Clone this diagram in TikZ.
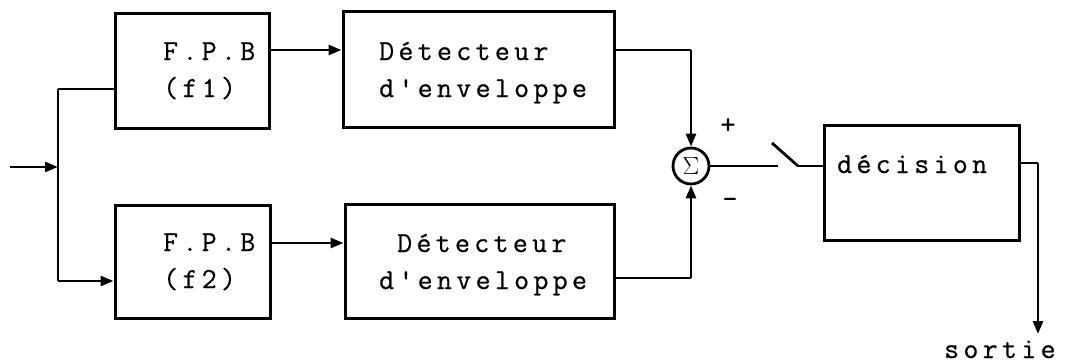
\documentclass[tikz,border=0pt]{standalone}
\usepackage{fontspec}
\usetikzlibrary{arrows.meta}
\newfontfamily\tw[LetterSpace=15,FakeBold=0.6]{Latin Modern Mono}
\begin{document}
\begin{tikzpicture}[x=1pt,y=-1pt,
  blk/.style={draw,line width=3pt,minimum width=#1,inner sep=0pt},
  txt/.style={anchor=base west,inner sep=0pt,font=\tw\fontsize{29}{33}\selectfont},
  sgn/.style={inner sep=0pt,font=\tw\fontsize{30}{30}\selectfont},
  wire/.style={line width=2.8pt},
  arr/.style={line width=2.8pt,-{Triangle[length=13pt,width=10pt]}},
  sumc/.style={draw,circle,line width=2.8pt,minimum size=36pt,inner sep=0pt,font=\fontsize{25}{25}\selectfont}]
\useasboundingbox (0,0) rectangle (1074,364);
% boxes
\node[blk=154pt,minimum height=115pt] (f1) at (192,70.5) {};
\node[blk=155pt,minimum height=113pt] (f2) at (192.5,261.5) {};
\node[blk=271pt,minimum height=116pt] (d1) at (478.5,69) {};
\node[blk=269pt,minimum height=114pt] (d2) at (479.5,261) {};
\node[blk=195pt,minimum height=115pt] (dec) at (921.5,182.5) {};
\node[sumc] (s) at (691,166) {$\Sigma$};
% texts
\node[txt] (f1a) at (163,60) {F.P.B};
\node[txt] (f1b) at (163,97) {(f1)};
\node[txt] (f2a) at (163,251) {F.P.B};
\node[txt] (f2b) at (163,288) {(f2)};
\node[txt] (d1a) at (379,60) {Détecteur};
\node[txt] (d1b) at (379,97) {d'enveloppe};
\node[txt] (d2a) at (397,252) {Détecteur};
\node[txt] (d2b) at (379,289) {d'enveloppe};
\node[txt] (deca) at (837,173) {décision};
\node[txt] (out) at (944,358) {sortie};
\node[sgn] (plus) at (728,126) {+};
\node[sgn] (minus) at (730,203) {-};
% coordinates
\coordinate (in) at (10,167);
\coordinate (bus) at (58,167);
\coordinate (bt) at (58,89);
\coordinate (bb) at (58,281);
\coordinate (c1) at (691,50);
\coordinate (c2) at (691,278);
\coordinate (sw1) at (778,166);
\coordinate (sw2) at (772,143);
\coordinate (sw3) at (798,166);
\coordinate (o1) at (1038,163);
\coordinate (o2) at (1038,334);
% connectors
\draw[arr] (in) -- (bus);
\draw[wire] (bt) -- (bb);
\draw[wire] (bt) -- (f1.west |- bt);
\draw[arr] (bb) -- (f2.west |- bb);
\draw[arr] (f1.east |- 0,50) -- (d1.west |- 0,50);
\draw[arr] (f2.east |- 0,243) -- (d2.west |- 0,243);
\draw[wire] (d1.east |- c1) -- (c1);
\draw[arr] (c1) -- (s.north);
\draw[wire] (d2.east |- c2) -- (c2);
\draw[arr] (c2) -- (s.south);
\draw[wire] (s.east) -- (sw1);
\draw[wire] (sw2) -- (sw3);
\draw[wire] (sw3) -- (dec.west |- sw3);
\draw[wire] (dec.east |- o1) -- (o1);
\draw[arr] (o1) -- (o2);
\end{tikzpicture}
\end{document}
